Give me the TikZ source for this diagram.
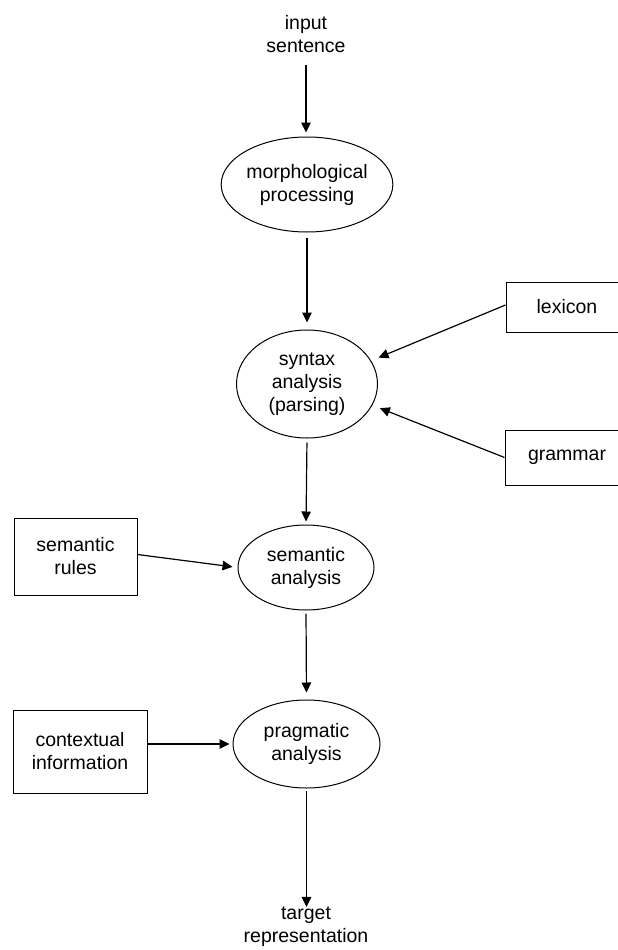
\documentclass[tikz,border=0pt]{standalone}
\usepackage{fontspec}
\setmainfont{Liberation Sans}
\usetikzlibrary{arrows.meta,shapes.geometric}
\begin{document}
\begin{tikzpicture}[x=1pt,y=-1pt,
  lbl/.style={align=center,text=black,inner sep=0pt,
    font=\fontsize{19.5}{23}\selectfont},
  stage/.style={lbl,draw=black,line width=1pt,ellipse,inner sep=0pt},
  srcbox/.style={lbl,draw=black,line width=1pt,rectangle,inner sep=0pt},
  arr/.style={draw=black,line width=1.2pt,-{Triangle[length=10pt,width=9.5pt]}}]
\useasboundingbox (0,0) rectangle (618,950);
\clip (0,0) rectangle (618,950);

% pipeline stages
\node[lbl] (input) at (306,34) {input\\sentence};
\node[stage,minimum width=149pt,minimum height=95pt] (morph) at (307,184.5) {morphological\\processing};
\node[stage,minimum width=141pt,minimum height=108pt] (syn) at (307,384) {syntax\\analysis\\(parsing)};
\node[stage,minimum width=136pt,minimum height=85pt] (sem) at (306,567.5) {semantic\\analysis};
\node[stage,minimum width=147pt,minimum height=88pt] (prag) at (306.5,744) {pragmatic\\analysis};
\node[lbl] (target) at (306,927) {target\\representation};

% knowledge sources
\node[srcbox,minimum width=122pt,minimum height=50pt] (lex) at (567,307) {lexicon};
\node[srcbox,minimum width=124pt,minimum height=55pt] (gram) at (567,457.5) {grammar};
\node[srcbox,minimum width=123pt,minimum height=77pt] (semr) at (75.5,556.5) {semantic\\rules};
\node[srcbox,minimum width=134pt,minimum height=83pt] (ctx) at (80,751.5) {contextual\\information};

% main flow
\draw[arr,shorten <=12pt,shorten >=4pt] (input.south) -- (input.south |- morph.north);
\draw[arr,shorten <=5pt,shorten >=7pt] (morph.south) -- (syn.north);
\draw[arr,shorten <=4pt,shorten >=3pt] (syn.south) -- (sem.north);
\draw[arr,shorten <=3pt,shorten >=7pt] (sem.south) -- (prag.north);
\draw[arr,shorten <=2pt] (prag.south) -- (prag.south |- target.north);

% inputs from knowledge sources
\draw[arr,shorten >=8pt] ([yshift=2pt]lex.west) -- (syn.20);
\draw[arr,shorten >=8pt] (gram.west) -- (syn.-18);
\draw[arr,shorten >=5pt] ([yshift=2pt]semr.east) -- (sem.west);
\draw[arr,shorten >=3pt] (ctx.east |- prag.west) -- (prag.west);
\end{tikzpicture}
\end{document}
